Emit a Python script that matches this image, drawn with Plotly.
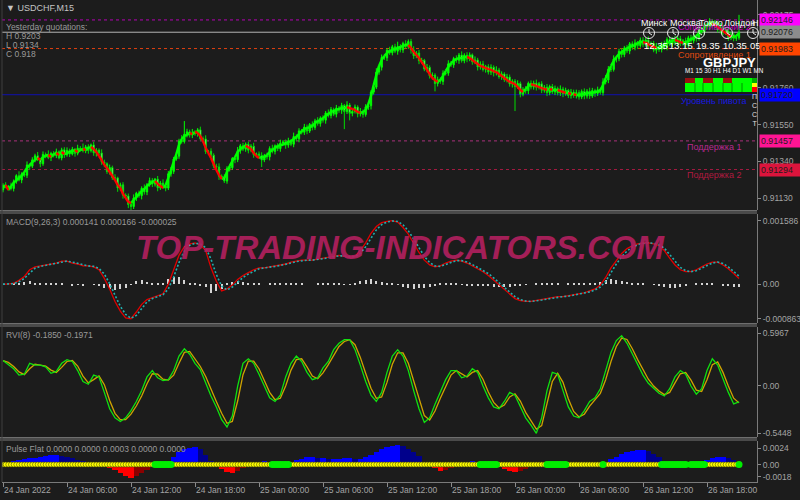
import plotly.graph_objects as go

# ---------------- data ----------------
TIME_TICK_BARS = [0, 24, 48, 72, 96, 120, 144, 168, 192, 216, 240, 264]
TIME_TICK_LABELS = ["24 Jan 2022", "24 Jan 06:00", "24 Jan 12:00", "24 Jan 18:00",
                    "25 Jan 00:00", "25 Jan 06:00", "25 Jan 12:00", "25 Jan 18:00",
                    "26 Jan 00:00", "26 Jan 06:00", "26 Jan 12:00", "26 Jan 18:00"]

# smoothed price line (points, 1e-5) - one value per M15 bar
MA_PTS = [
    91189, 91206, 91177, 91200, 91217, 91234, 91246, 91257, 91280, 91303, 91320, 91337, 91348, 91360, 91348, 91365, 91371, 91377, 91365, 91382, 91388, 91377, 91394, 91382,
    91388, 91394, 91399, 91405, 91394, 91405, 91411, 91405, 91417, 91422, 91411, 91394, 91371, 91348, 91320, 91303, 91280, 91257, 91234, 91206, 91189, 91155, 91132, 91109,
    91103, 91120, 91137, 91155, 91172, 91183, 91200, 91211, 91223, 91229, 91211, 91200, 91189, 91206, 91246, 91291, 91337, 91382, 91434, 91468, 91485, 91491, 91502, 91496,
    91508, 91502, 91485, 91456, 91417, 91388, 91360, 91325, 91291, 91263, 91240, 91246, 91280, 91314, 91342, 91365, 91394, 91411, 91422, 91428, 91422, 91411, 91388, 91371,
    91360, 91365, 91365, 91377, 91394, 91405, 91417, 91428, 91434, 91434, 91445, 91451, 91456, 91468, 91479, 91496, 91513, 91525, 91530, 91536, 91542, 91559, 91570, 91576,
    91587, 91599, 91610, 91622, 91627, 91633, 91639, 91644, 91644, 91650, 91644, 91639, 91633, 91622, 91616, 91622, 91633, 91667, 91713, 91775, 91832, 91884, 91918, 91941,
    91958, 91969, 91975, 91980, 91986, 91992, 91998, 92003, 92003, 91986, 91963, 91946, 91929, 91906, 91884, 91861, 91838, 91815, 91804, 91793, 91804, 91827, 91855, 91878,
    91901, 91912, 91924, 91929, 91929, 91935, 91935, 91929, 91918, 91906, 91895, 91884, 91878, 91872, 91867, 91861, 91855, 91849, 91838, 91827, 91815, 91804, 91793, 91787,
    91781, 91764, 91747, 91736, 91753, 91770, 91781, 91775, 91770, 91764, 91758, 91753, 91747, 91753, 91747, 91747, 91747, 91741, 91736, 91730, 91730, 91724, 91724, 91718,
    91718, 91724, 91724, 91730, 91730, 91730, 91736, 91736, 91747, 91775, 91815, 91849, 91884, 91912, 91935, 91952, 91963, 91975, 91986, 91992, 91998, 92003, 92015, 92020,
    92020, 92015, 92009, 91998, 91992, 91986, 91986, 91992, 92003, 92015, 92020, 92026, 92032, 92026, 92020, 92015, 92020, 92026, 92037, 92043, 92054, 92072, 92089, 92106,
    92117, 92123, 92123, 92117, 92106, 92094, 92083, 92072, 92060, 92049, 92049, 92054, 92072]

# close minus smoothed line (points)
DEV_PTS = [
    16, -11, 21, -14, 8, 25, -12, 11, -19, 17, -7, 12, 24, -10, -21, 15, 4, -14, 20, -8, 7, -17, 12, -4,
    15, -12, 10, -18, 21, 7, -10, 18, -15, 12, -22, 10, 17, -12, 7, -20, 25, -10, 12, -17, 18, -7, 11, -14,
    -20, 12, 22, -10, 15, -17, 7, 20, -12, 10, -21, 17, 12, -18, 24, -8, 17, -12, 21, -15, 10, 18, -12, 7,
    -10, 18, -15, 12, -21, 10, 15, -12, 18, -7, 12, -18, 21, -10, 15, -15, 7, 18, -12, 10, -18, 15, -10, 12,
    14, -17, 8, -11, 20, -8, 12, -15, 10, 17, -12, 7, -18, 14, -10, 18, -7, 11, -17, 15, -8, 12, -14, 10,
    -12, 17, -8, 14, -18, 11, -7, 15, -20, 12, -30, -14, 17, -11, 8, -15, 18, -10, 22, -12, 17, -8, 14, -11,
    15, -10, 18, -12, 8, -17, 14, -7, 20, -11, -21, 12, -15, 10, -18, 14, -11, 17, -20, 12, -8, 15, -12, 18,
    -11, 14, -8, 17, -15, 10, -12, 18, -10, 12, -17, 11, -14, 8, -18, 15, -10, 12, -15, 11, -8, 17, -12, 10,
    -14, 20, -24, 12, -10, 15, -17, 11, -8, 18, -12, 10, -15, 14, -11, 8, -17, 12, -10, 15, -14, 11, -8, 14,
    -11, 15, -12, 10, -17, 14, -8, 12, -15, 18, -11, 17, -20, 12, -10, 15, -14, 11, -17, 18, -8, 12, -15, 11,
    -12, 17, -10, 14, -18, 11, -8, 15, -12, 20, -11, 10, -17, 14, -8, 12, -15, 18, -10, 11, -14, 17, -12, 10,
    -11, 15, -8, 12, -17, 14, -10, 11, -15, 12, -8, -10, 4]

WICK_UP = [
    11, 17, 7, 21, 12, 8, 25, 10, 14, 20, 7, 15, 12, 22, 8, 17, 11, 28, 10, 14, 18, 8, 12, 15,
    17, 10, 14, 7, 20, 12, 30, 11, 15, 8, 18, 12, 10, 21, 14, 8, 17, 11, 20, 7, 12, 15, 10, 14,
    12, 20, 8, 15, 11, 22, 10, 17, 14, 7, 18, 12, 21, 10, 15, 25, 12, 20, 14, 35, 75, 17, 12, 22,
    15, 10, 18, 12, 21, 8, 17, 11, 14, 20, 10, 15, 12, 18, 8, 14, 21, 11, 17, 10, 15, 12, 20, 8,
    14, 18, 10, 17, 12, 21, 8, 15, 20, 11, 14, 17, 10, 22, 12, 15, 11, 18, 14, 8, 17, 12, 21, 11,
    17, 11, 20, 14, 10, 18, 12, 15, 8, 21, 11, 17, 14, 10, 20, 12, 15, 18, 11, 14, 22, 12, 17, 10,
    12, 20, 11, 17, 28, 14, 10, 18, 12, 15, 21, 11, 17, 14, 8, 20, 12, 15, 10, 18, 14, 17, 11, 20,
    15, 10, 18, 12, 21, 11, 17, 14, 8, 20, 12, 15, 18, 10, 14, 17, 11, 21, 12, 15, 10, 18, 14, 11,
    12, 18, 11, 15, 21, 10, 17, 14, 20, 11, 15, 12, 18, 10, 14, 17, 11, 20, 12, 15, 8, 18, 14, 17,
    14, 11, 17, 12, 20, 15, 10, 18, 12, 21, 28, 17, 14, 20, 11, 15, 18, 12, 17, 10, 14, 20, 11, 15,
    17, 12, 20, 11, 15, 18, 10, 14, 21, 12, 17, 11, 20, 14, 15, 10, 18, 12, 17, 14, 11, 20, 15, 12,
    14, 18, 11, 17, 12, 20, 10, 15, 14, 18, 12, 21, 99]

WICK_DN = [
    14, 8, 20, 11, 17, 12, 7, 18, 10, 15, 22, 11, 14, 8, 20, 12, 17, 10, 21, 11, 15, 8, 14, 18,
    11, 17, 8, 20, 12, 15, 10, 14, 18, 11, 17, 21, 12, 15, 20, 14, 18, 12, 17, 22, 15, 20, 14, 21,
    20, 14, 17, 12, 21, 15, 18, 11, 17, 14, 20, 12, 15, 18, 11, 17, 14, 10, 15, 12, 11, 18, 14, 17,
    12, 17, 11, 20, 14, 18, 15, 12, 17, 21, 14, 11, 15, 18, 12, 20, 14, 17, 11, 15, 18, 12, 17, 14,
    17, 40, 12, 15, 20, 11, 17, 14, 18, 12, 21, 15, 11, 17, 14, 20, 12, 15, 18, 11, 17, 14, 12, 18,
    14, 20, 12, 17, 11, 18, 15, 21, 100, 14, 40, 17, 12, 20, 15, 18, 12, 17, 21, 14, 11, 15, 18, 12,
    18, 12, 15, 11, 20, 14, 17, 12, 15, 21, 18, 14, 20, 17, 12, 18, 15, 21, 45, 17, 14, 20, 12, 15,
    12, 17, 14, 20, 11, 15, 18, 12, 17, 14, 20, 15, 12, 18, 14, 17, 21, 15, 12, 18, 14, 17, 15, 20,
    140, 14, 18, 12, 17, 20, 14, 15, 18, 12, 17, 14, 20, 15, 12, 18, 14, 17, 20, 12, 15, 18, 14, 17,
    15, 12, 18, 14, 17, 11, 20, 15, 12, 17, 14, 18, 15, 12, 20, 14, 17, 15, 12, 18, 14, 17, 20, 12,
    17, 14, 18, 15, 12, 20, 14, 17, 15, 18, 12, 17, 14, 20, 15, 12, 18, 14, 17, 15, 18, 12, 17, 14,
    15, 18, 12, 17, 14, 20, 15, 12, 18, 14, 17, 15, 11]
OPEN0_PTS = 91178

# indicator values sampled every 2 bars
MACD_E6 = [
    0, 0, 24, 96, 192, 360, 432, 456, 480, 504,
    528, 576, 576, 528, 504, 456, 456, 432, 360, 144,
    -120, -432, -672, -840, -863, -696, -504, -384, -336, -288,
    -240, 0, 360, 720, 936, 1008, 1032, 984, 840, 408,
    72, -168, -120, -24, 120, 216, 288, 360, 408, 408,
    432, 456, 480, 504, 552, 576, 600, 600, 600, 624,
    648, 672, 696, 720, 696, 672, 696, 840, 1032, 1272,
    1440, 1536, 1570, 1586, 1550, 1416, 1248, 1008, 792, 600,
    480, 432, 456, 528, 576, 600, 576, 528, 456, 384,
    312, 216, 96, -24, -144, -264, -360, -408, -432, -432,
    -408, -384, -360, -336, -312, -312, -288, -264, -240, -216,
    -168, -120, -24, 168, 408, 600, 768, 888, 960, 1008,
    1032, 1032, 1008, 960, 840, 648, 480, 360, 312, 312,
    360, 432, 504, 552, 552, 480, 384, 264, 141]

RVI_E4 = [
    2854, 2439, 1920, 1194, 1297, 2543, 2335, 2335, 2128, 1401,
    1609, 2543, 2958, 2750, 1712, 467, 156, 1194, 986, -778,
    -2646, -3684, -4099, -3684, -2853, -1816, -571, 986, 1712, 882,
    571, 675, 1712, 3373, 4203, 3580, 2543, 1816, 260, -1193,
    -2438, -3891, -4721, -3476, -52, 2543, 3061, 2543, 1297, -155,
    -1401, -1816, -1089, 986, 2543, 3373, 2750, 1505, 675, 882,
    2024, 2750, 4099, 4826, 5241, 5241, 4099, 2335, 467, -1089,
    -1816, -778, 1505, 3373, 4099, 3373, 1712, -571, -2646, -4202,
    -3684, -2127, -778, 675, 1712, 1712, 882, 1090, 1920, 1505,
    -52, -1401, -2438, -2646, -1816, -778, -1089, -2438, -3684, -4514,
    -5448, -3684, -571, 1505, 1297, -571, -2438, -3476, -3684, -2853,
    -1816, -1401, -363, 1712, 3788, 5137, 5700, 4826, 3580, 2335,
    1194, 260, -363, -882, -1193, -363, 986, 1712, 1297, -52,
    -986, -363, 1712, 3061, 2335, 675, -778, -2100, -1850]

PULSE_E5 = [
    28, 42, 56, 71, 85, 99, 99, 113, 127, 141,
    141, 127, 113, 99, 71, 56, 42, 28, 14, -28,
    -56, -85, -127, -169, -197, -169, -127, -85, -42, 0,
    0, 0, 113, 183, 226, 240, 254, 226, 141, 56,
    -5, -71, -113, -127, -99, -56, -28, 5, 28, 56,
    42, 0, 0, 0, 42, 71, 85, 113, 113, 99,
    99, 85, 85, 85, 99, 99, 85, 85, 113, 141,
    183, 226, 254, 268, 282, 268, 226, 183, 127, 42,
    -28, -56, -99, -85, -56, -42, -14, 42, 56, 42,
    0, 0, 0, -28, -71, -99, -113, -99, -71, -42,
    -28, -14, 0, 0, 0, 0, -14, -14, -14, -28,
    -28, -28, -14, 42, 85, 113, 155, 183, 197, 212,
    212, 197, 155, 113, 42, 0, 0, 0, -14, 0,
    0, 0, 71, 99, 113, 113, 99, 71, 0]
FLAT_START = [57, 101, 179, 204, 225, 247, 258, 276]
FLAT_END = [63, 107, 185, 211, 225, 256, 263, 276]

LEVEL_PRICES = [0.92146, 0.92076, 0.91983, 0.91720, 0.91457, 0.91294]
LEVEL_NAMES = ["Сопротивление 2", "", "Сопротивление 1", "Уровень пивота", "Поддержка 1", "Поддержка 2"]

PRICE_TICKS = [0.91130, 0.91340, 0.91550, 0.91760, 0.92175]
MACD_TICKS = [0.001586, 0.0, -0.000863]
MACD_TICKTEXT = ["0.001586", "0.00", "-0.000863"]
RVI_TICKS = [0.5967, 0.0, -0.5448]
RVI_TICKTEXT = ["0.5967", "0.00", "-0.5448"]
PULSE_TICKS = [0.0024, 0.0, -0.0018]
PULSE_TICKTEXT = ["0.0024", "0.00", "-0.0018"]

# ---------------- styling ----------------
W, H = 800, 500
BG = "#1c1c1c"
AXC = "#a4a4a4"
FONT = "Liberation Sans"


def PX(x):
    return x / W


def PY(y):
    return 1 - y / H


LEVEL_COLORS = ["#ff00ff", "#8c8c8c", "#ff4500", "#0000ff", "#ff1493", "#dc143c"]
LEVEL_LINE = ["#b400b4", "#b4b4b4", "#e04010", "#1010b0", "#a8307a", "#a01a40"]
LEVEL_DASH = ["3px,3px", "solid", "3px,3px", "solid", "3px,3px", "3px,3px"]
LEVEL_TEXTC = ["#c000c0", "", "#e04a10", "#1818e0", "#b82a90", "#b01a40"]
LEVEL_TEXT_Y = [27, 0, 55, 101, 147, 175]

# ---------------- derived ----------------
n = min(len(MA_PTS), len(DEV_PTS), len(WICK_UP), len(WICK_DN))
bars = list(range(n))
close = [(MA_PTS[i] + DEV_PTS[i]) / 1e5 for i in bars]
opn = [OPEN0_PTS / 1e5] + close[:-1]
high = [max(opn[i], close[i]) + WICK_UP[i] / 1e5 for i in bars]
low = [min(opn[i], close[i]) - WICK_DN[i] / 1e5 for i in bars]

gx, gy, rx, ry = [], [], [], []
for i in range(n - 1):
    a, b = MA_PTS[i] / 1e5, MA_PTS[i + 1] / 1e5
    if b < a:
        rx += [i, i + 1, None]
        ry += [a, b, None]
    else:
        gx += [i, i + 1, None]
        gy += [a, b, None]

macd = [v / 1e6 for v in MACD_E6]
mx = [2 * k for k in range(len(macd))]
sig = [macd[0]] + [(macd[k] + macd[k - 1]) / 2 for k in range(1, len(macd))]
hist = [m - s for m, s in zip(macd, sig)]

rvi = [v / 1e4 for v in RVI_E4]
rx_ = [2 * k for k in range(len(rvi))]
rsig = [rvi[0]] + [(rvi[k] + rvi[k - 1]) / 2 for k in range(1, len(rvi))]

pulse = [v / 1e5 for v in PULSE_E5]
px_ = [2 * k for k in range(len(pulse))]
pcol = []
for k, v in enumerate(pulse):
    prev = pulse[k - 1] if k > 0 else 0
    if v >= 0:
        pcol.append("#0000ff" if v >= prev else "#00008b")
    else:
        pcol.append("#ff0000" if v <= prev else "#8b0000")

flat_bars = []
for s, e in zip(FLAT_START, FLAT_END):
    flat_bars += list(range(s, e + 1))

XR = [-0.375, 282.75]

fig = go.Figure()

# main price panel
fig.add_trace(go.Candlestick(
    x=bars, open=opn, high=high, low=low, close=close,
    increasing=dict(line=dict(color="#00ff00", width=1), fillcolor="#00ff00"),
    decreasing=dict(line=dict(color="#00dc00", width=1), fillcolor="#c8ffc8"),
    whiskerwidth=0, xaxis="x", yaxis="y", showlegend=False, hoverinfo="skip"))
fig.add_trace(go.Scatter(x=gx, y=gy, mode="lines", line=dict(color="#00ff00", width=2.4),
                         xaxis="x", yaxis="y", showlegend=False, hoverinfo="skip"))
fig.add_trace(go.Scatter(x=rx, y=ry, mode="lines", line=dict(color="#ff0000", width=2.4),
                         xaxis="x", yaxis="y", showlegend=False, hoverinfo="skip"))

# MACD panel
fig.add_trace(go.Bar(x=mx, y=hist, width=0.8, marker=dict(color="#d4d4d4", line=dict(width=0)),
                     xaxis="x2", yaxis="y2", showlegend=False, hoverinfo="skip"))
fig.add_trace(go.Scatter(x=mx, y=macd, mode="lines", line=dict(color="#e00000", width=1.3),
                         xaxis="x2", yaxis="y2", showlegend=False, hoverinfo="skip"))
fig.add_trace(go.Scatter(x=mx, y=sig, mode="lines", line=dict(color="#20b0b0", width=1.6, dash="2px,2px"),
                         xaxis="x2", yaxis="y2", showlegend=False, hoverinfo="skip"))

# RVI panel
fig.add_trace(go.Scatter(x=rx_, y=rsig, mode="lines", line=dict(color="#d0a400", width=1.3),
                         xaxis="x3", yaxis="y3", showlegend=False, hoverinfo="skip"))
fig.add_trace(go.Scatter(x=rx_, y=rvi, mode="lines", line=dict(color="#10e010", width=1.3),
                         xaxis="x3", yaxis="y3", showlegend=False, hoverinfo="skip"))

# Pulse Flat panel
fig.add_trace(go.Bar(x=px_, y=pulse, width=2.0, marker=dict(color=pcol, line=dict(width=0)),
                     xaxis="x4", yaxis="y4", showlegend=False, hoverinfo="skip"))
fig.add_trace(go.Scatter(x=bars, y=[0] * n, mode="markers",
                         marker=dict(color="#ffff00", size=5, line=dict(color="#4a4a00", width=0.6)),
                         xaxis="x4", yaxis="y4", showlegend=False, hoverinfo="skip"))
fig.add_trace(go.Scatter(x=flat_bars, y=[0] * len(flat_bars), mode="markers",
                         marker=dict(color="#00ee00", size=7, line=dict(width=0)),
                         xaxis="x4", yaxis="y4", showlegend=False, hoverinfo="skip"))

tickfont = dict(family=FONT, size=8.5, color=AXC)


def xax():
    return dict(domain=[PX(2), PX(757)], range=XR, showgrid=False, zeroline=False,
                showticklabels=False, ticks="", showline=False, fixedrange=True)


def yax(dom, rng, tv, tt, anchor):
    return dict(domain=dom, range=rng, side="right", anchor=anchor, showgrid=False, zeroline=False,
                tickvals=tv, ticktext=tt, tickfont=tickfont, ticks="outside", ticklen=3,
                tickcolor="#8a8a8a", showline=True, linecolor="#7a7a7a", linewidth=1,
                automargin=False, fixedrange=True)


xa1 = xax()
xa1["rangeslider"] = dict(visible=False)
xa1["anchor"] = "y"
xa4 = xax()
xa4.update(showticklabels=True, tickvals=TIME_TICK_BARS, ticktext=TIME_TICK_LABELS,
           ticks="outside", ticklen=4, tickcolor="#8a8a8a", tickfont=tickfont,
           ticklabelposition="outside right", showline=True, linecolor="#7a7a7a",
           automargin=False, anchor="y4")

shapes = []
# level lines
for p, c, d in zip(LEVEL_PRICES, LEVEL_LINE, LEVEL_DASH):
    shapes.append(dict(type="line", xref="x", yref="y", x0=XR[0], x1=XR[1], y0=p, y1=p,
                       line=dict(color=c, width=1, dash=d), layer="below"))
# panel separators
for y0, y1 in [(210, 214), (323, 327), (437, 441)]:
    shapes.append(dict(type="rect", xref="paper", yref="paper", x0=0, x1=PX(757),
                       y0=PY(y1), y1=PY(y0), fillcolor="#4a4a4a", line=dict(width=0), layer="above"))
    shapes.append(dict(type="line", xref="paper", yref="paper", x0=0, x1=PX(757),
                       y0=PY(y0 + 0.5), y1=PY(y0 + 0.5), line=dict(color="#6e6e6e", width=1), layer="above"))
# left border
shapes.append(dict(type="line", xref="paper", yref="paper", x0=PX(2), x1=PX(2), y0=PY(482), y1=PY(0),
                   line=dict(color="#3e3e3e", width=1), layer="above"))
# widget blocks
for x0, x1, y0, y1, c in [(685, 752, 83, 92, "#00ff00"), (685, 695, 78, 83, "#9a1010"),
                          (695, 703, 78, 83, "#00ff00"), (703, 713, 78, 83, "#9a1010"),
                          (713, 723, 78, 83, "#00ff00"), (723, 732, 78, 83, "#9a1010"),
                          (732, 752, 78, 83, "#00ff00"), (752, 757, 78, 83, "#00b000"),
                          (752, 757, 83, 87, "#ffff00"), (752, 757, 87, 92, "#ff0000")]:
    shapes.append(dict(type="rect", xref="paper", yref="paper", x0=PX(x0), x1=PX(x1),
                       y0=PY(y1), y1=PY(y0), fillcolor=c, line=dict(width=0), layer="above"))
for xs in [695, 703, 713, 723, 732, 742]:
    shapes.append(dict(type="line", xref="paper", yref="paper", x0=PX(xs), x1=PX(xs),
                       y0=PY(92), y1=PY(83), line=dict(color="#009000", width=1), layer="above"))
# clock icons
for cx in [649, 673, 699, 727, 753]:
    shapes.append(dict(type="circle", xref="paper", yref="paper", x0=PX(cx - 5.5), x1=PX(cx + 5.5),
                       y0=PY(38.5), y1=PY(27.5), line=dict(color="#e8e8e8", width=1), layer="above"))
    shapes.append(dict(type="line", xref="paper", yref="paper", x0=PX(cx), x1=PX(cx),
                       y0=PY(33), y1=PY(29), line=dict(color="#e8e8e8", width=1), layer="above"))
    shapes.append(dict(type="line", xref="paper", yref="paper", x0=PX(cx), x1=PX(cx + 3),
                       y0=PY(33), y1=PY(35), line=dict(color="#e8e8e8", width=1), layer="above"))

ann = []


def text(x, y, s, color="#a0a0a0", size=8.5, anchor="left", weight="normal"):
    ann.append(dict(x=PX(x), y=PY(y), xref="paper", yref="paper", text=s, showarrow=False,
                    xanchor=anchor, yanchor="middle",
                    font=dict(family=FONT, size=size, color=color, weight=weight)))


# watermark
ann.append(dict(x=PX(400), y=PY(247), xref="paper", yref="paper", text="TOP-TRADING-INDICATORS.COM",
                showarrow=False, xanchor="center", yanchor="middle", opacity=0.92,
                font=dict(family=FONT, size=33, color="#b0205e", weight="bold", style="italic")))

# headers
text(4, 8, "▼ USDCHF,M15", color="#c4c4c4", size=9)
text(4, 27, "Yesterday quotations:", color="#9a9a9a")
text(4, 36, "H 0.9203", color="#9a9a9a")
text(4, 45, "L 0.9134", color="#9a9a9a")
text(4, 54, "C 0.918", color="#9a9a9a")
text(4, 222, "MACD(9,26,3) 0.000141 0.000166 -0.000025", color="#9a9a9a")
text(4, 335, "RVI(8) -0.1850 -0.1971", color="#9a9a9a")
text(4, 449, "Pulse Flat 0.0000 0.0000 0.0003 0.0000 0.0000", color="#9a9a9a")

# level names
for name, c, yy in zip(LEVEL_NAMES, LEVEL_TEXTC, LEVEL_TEXT_Y):
    if name:
        text(714, yy, name, color=c, size=9, anchor="center")

# widget texts
for x, s in [(639, "Минск"), (668, "Москва"), (697, "Токио"), (722, "Лондон"), (750, "Н")]:
    text(x, 23, s, color="#ffffff", size=9)
for x, s in [(642, "12.35"), (667, "13.15"), (694, "19.35"), (721, "10.35"), (748, "05")]:
    text(x, 46, s, color="#ffffff", size=9.5)
text(729, 62, "GBPJPY", color="#ffffff", size=13, anchor="center", weight="bold")
text(683, 70, "M1 15 30 H1 H4 D1 W1 MN", color="#ffffff", size=6.3)
text(754, 110, "П<br>С<br>С<br>Т", color="#e0e0e0", size=7, anchor="center")

# price boxes
for p, c in zip(LEVEL_PRICES, LEVEL_COLORS):
    ann.append(dict(x=PX(759), y=p, xref="paper", yref="y", text=f"{p:.5f}", showarrow=False,
                    xanchor="left", yanchor="middle", bgcolor=c, borderpad=1, width=38, align="left",
                    font=dict(family=FONT, size=8.8, color="#1e1e1e")))

fig.update_layout(
    width=W, height=H, margin=dict(l=0, r=0, t=0, b=0),
    paper_bgcolor=BG, plot_bgcolor=BG, showlegend=False, hovermode=False,
    bargap=0,
    xaxis=xa1, xaxis2=dict(xax(), anchor="y2"), xaxis3=dict(xax(), anchor="y3"),
    xaxis4=xa4,
    yaxis=yax([PY(210), PY(0)], [0.910634, 0.922595], PRICE_TICKS, [f"{v:.5f}" for v in PRICE_TICKS], "x"),
    yaxis2=yax([PY(323), PY(214)], [-0.000970, 0.001753], MACD_TICKS, MACD_TICKTEXT, "x2"),
    yaxis3=yax([PY(437), PY(327)], [-0.5870, 0.6686], RVI_TICKS, RVI_TICKTEXT, "x3"),
    yaxis4=yax([PY(482), PY(441)], [-0.00258, 0.00348], PULSE_TICKS, PULSE_TICKTEXT, "x4"),
    shapes=shapes, annotations=ann,
)

fig.write_html("out.html", config={"displayModeBar": False},
               post_script="document.body.style.margin='0px';document.body.style.background='#1c1c1c';")
